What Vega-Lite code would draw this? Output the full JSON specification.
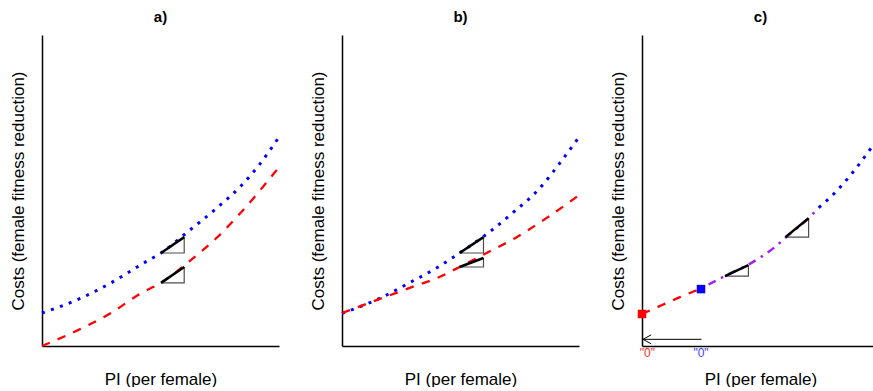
{
  "$schema": "https://vega.github.io/schema/vega-lite/v6.json",
  "padding": {"left": 9, "top": 10, "right": 0, "bottom": 0},
  "background": "white",
  "spacing": 24,
  "datasets": {
    "curves": [
      {"p": "a", "s": "blue", "x": 0, "y": 1.06},
      {"p": "a", "s": "blue", "x": 1.65, "y": 1.54},
      {"p": "a", "s": "blue", "x": 2.91, "y": 2.03},
      {"p": "a", "s": "blue", "x": 4.30, "y": 2.67},
      {"p": "a", "s": "blue", "x": 5.02, "y": 2.99},
      {"p": "a", "s": "blue", "x": 6.16, "y": 3.68},
      {"p": "a", "s": "blue", "x": 7.43, "y": 4.47},
      {"p": "a", "s": "blue", "x": 8.40, "y": 5.15},
      {"p": "a", "s": "blue", "x": 9.16, "y": 5.82},
      {"p": "a", "s": "blue", "x": 10, "y": 6.72},
      {"p": "a", "s": "red", "x": 0, "y": 0},
      {"p": "a", "s": "red", "x": 1.52, "y": 0.51},
      {"p": "a", "s": "red", "x": 2.91, "y": 1.06},
      {"p": "a", "s": "red", "x": 4.18, "y": 1.70},
      {"p": "a", "s": "red", "x": 5.02, "y": 2.03},
      {"p": "a", "s": "red", "x": 6.16, "y": 2.69},
      {"p": "a", "s": "red", "x": 7.43, "y": 3.52},
      {"p": "a", "s": "red", "x": 8.52, "y": 4.40},
      {"p": "a", "s": "red", "x": 10, "y": 5.75},
      {"p": "b", "s": "blue", "x": 0, "y": 1.05},
      {"p": "b", "s": "blue", "x": 1.64, "y": 1.55},
      {"p": "b", "s": "blue", "x": 2.84, "y": 2.03},
      {"p": "b", "s": "blue", "x": 3.97, "y": 2.50},
      {"p": "b", "s": "blue", "x": 4.96, "y": 2.99},
      {"p": "b", "s": "blue", "x": 6.23, "y": 3.67},
      {"p": "b", "s": "blue", "x": 7.20, "y": 4.28},
      {"p": "b", "s": "blue", "x": 8.35, "y": 5.08},
      {"p": "b", "s": "blue", "x": 9.19, "y": 5.88},
      {"p": "b", "s": "blue", "x": 10, "y": 6.72},
      {"p": "b", "s": "red", "x": 0, "y": 1.06},
      {"p": "b", "s": "red", "x": 1.69, "y": 1.54},
      {"p": "b", "s": "red", "x": 2.97, "y": 1.90},
      {"p": "b", "s": "red", "x": 4.11, "y": 2.22},
      {"p": "b", "s": "red", "x": 4.96, "y": 2.54},
      {"p": "b", "s": "red", "x": 6.10, "y": 2.99},
      {"p": "b", "s": "red", "x": 7.37, "y": 3.50},
      {"p": "b", "s": "red", "x": 8.64, "y": 4.12},
      {"p": "b", "s": "red", "x": 10, "y": 4.85},
      {"p": "c", "s": "red", "x": 0, "y": 1.03},
      {"p": "c", "s": "red", "x": 0.8, "y": 1.30},
      {"p": "c", "s": "red", "x": 1.6, "y": 1.57},
      {"p": "c", "s": "red", "x": 2.49, "y": 1.85},
      {"p": "c", "s": "purple", "x": 2.49, "y": 1.85},
      {"p": "c", "s": "purple", "x": 3.50, "y": 2.25},
      {"p": "c", "s": "purple", "x": 4.49, "y": 2.62},
      {"p": "c", "s": "purple", "x": 5.62, "y": 3.19},
      {"p": "c", "s": "purple", "x": 6.10, "y": 3.51},
      {"p": "c", "s": "purple", "x": 7.03, "y": 4.11},
      {"p": "c", "s": "purple", "x": 7.46, "y": 4.45},
      {"p": "c", "s": "blue", "x": 7.46, "y": 4.45},
      {"p": "c", "s": "blue", "x": 8.17, "y": 4.95},
      {"p": "c", "s": "blue", "x": 8.86, "y": 5.55},
      {"p": "c", "s": "blue", "x": 9.70, "y": 6.40},
      {"p": "c", "s": "blue", "x": 10, "y": 6.72}
    ],
    "tris": [
      {"p": "a", "t": "a1", "o": 0, "x": 5.02, "y": 2.99},
      {"p": "a", "t": "a1", "o": 1, "x": 6.0, "y": 2.99},
      {"p": "a", "t": "a1", "o": 2, "x": 6.0, "y": 3.50},
      {"p": "a", "t": "a2", "o": 0, "x": 5.02, "y": 2.03},
      {"p": "a", "t": "a2", "o": 1, "x": 6.0, "y": 2.03},
      {"p": "a", "t": "a2", "o": 2, "x": 6.0, "y": 2.54},
      {"p": "b", "t": "b1", "o": 0, "x": 4.96, "y": 2.99},
      {"p": "b", "t": "b1", "o": 1, "x": 5.97, "y": 2.99},
      {"p": "b", "t": "b1", "o": 2, "x": 5.97, "y": 3.50},
      {"p": "b", "t": "b2", "o": 0, "x": 4.96, "y": 2.54},
      {"p": "b", "t": "b2", "o": 1, "x": 5.97, "y": 2.54},
      {"p": "b", "t": "b2", "o": 2, "x": 5.97, "y": 2.83},
      {"p": "c", "t": "c1", "o": 0, "x": 3.50, "y": 2.25},
      {"p": "c", "t": "c1", "o": 1, "x": 4.49, "y": 2.25},
      {"p": "c", "t": "c1", "o": 2, "x": 4.49, "y": 2.60},
      {"p": "c", "t": "c2", "o": 0, "x": 6.05, "y": 3.50},
      {"p": "c", "t": "c2", "o": 1, "x": 7.03, "y": 3.50},
      {"p": "c", "t": "c2", "o": 2, "x": 7.03, "y": 4.11}
    ],
    "arrow": [
      {"t": "shaft", "o": 0, "x": 2.51, "y": 0.215},
      {"t": "shaft", "o": 1, "x": 0.04, "y": 0.215},
      {"t": "head", "o": 0, "x": 0.39, "y": 0.36},
      {"t": "head", "o": 1, "x": 0.04, "y": 0.215},
      {"t": "head", "o": 2, "x": 0.39, "y": 0.07}
    ],
    "squares": [
      {"s": "red", "x": 0, "y": 1.03, "lab": "\"0\"", "lx": 0.23, "ly": -0.23},
      {"s": "blue", "x": 2.49, "y": 1.83, "lab": "\"0\"", "lx": 2.49, "ly": -0.23}
    ]
  },
  "config": {
    "view": {"stroke": null},
    "font": "Liberation Sans",
    "axis": {
      "ticks": false,
      "labels": false,
      "grid": false,
      "domainColor": "black",
      "domainWidth": 1.5,
      "titleFont": "Liberation Sans",
      "titleFontSize": 17,
      "titleFontWeight": "normal",
      "titleColor": "black"
    },
    "axisX": {"titlePadding": 25},
    "axisY": {"titlePadding": 15},
    "title": {"font": "Liberation Sans", "fontSize": 15, "fontWeight": "bold", "offset": 10, "anchor": "middle", "color": "black"}
  },
  "hconcat": [
    {
      "width": 237,
      "height": 311,
      "title": "a)",
      "encoding": {
        "x": {"field": "x", "type": "quantitative", "scale": {"domain": [0, 10], "nice": false, "zero": false}, "axis": {"title": "PI (per female)"}},
        "y": {"field": "y", "type": "quantitative", "scale": {"domain": [0, 10], "nice": false, "zero": false}, "axis": {"title": "Costs (female fitness reduction)"}}
      },
      "layer": [
        {"data": {"name": "curves"}, "transform": [{"filter": "datum.p == 'a' && datum.s == 'blue'"}], "mark": {"type": "line", "interpolate": "monotone", "color": "#0000ff", "strokeWidth": 3, "strokeDash": [3, 6.5]}, "encoding": {}},
        {"data": {"name": "curves"}, "transform": [{"filter": "datum.p == 'a' && datum.s == 'red'"}], "mark": {"type": "line", "interpolate": "monotone", "color": "#ff0000", "strokeWidth": 2.3, "strokeDash": [8.5, 8.5]}, "encoding": {}},
        {"data": {"name": "tris"}, "transform": [{"filter": "datum.p == 'a'"}], "mark": {"type": "line", "color": "#4d4d4d", "strokeWidth": 1.2}, "encoding": {"detail": {"field": "t"}, "order": {"field": "o", "type": "quantitative"}}},
        {"data": {"name": "tris"}, "transform": [{"filter": "datum.p == 'a' && datum.o != 1"}], "mark": {"type": "line", "color": "black", "strokeWidth": 2.5}, "encoding": {"detail": {"field": "t"}, "order": {"field": "o", "type": "quantitative"}}}
      ]
    },
    {
      "width": 237,
      "height": 311,
      "title": "b)",
      "encoding": {
        "x": {"field": "x", "type": "quantitative", "scale": {"domain": [0, 10], "nice": false, "zero": false}, "axis": {"title": "PI (per female)"}},
        "y": {"field": "y", "type": "quantitative", "scale": {"domain": [0, 10], "nice": false, "zero": false}, "axis": {"title": "Costs (female fitness reduction)"}}
      },
      "layer": [
        {"data": {"name": "curves"}, "transform": [{"filter": "datum.p == 'b' && datum.s == 'blue'"}], "mark": {"type": "line", "interpolate": "monotone", "color": "#0000ff", "strokeWidth": 3, "strokeDash": [3, 6.5]}, "encoding": {}},
        {"data": {"name": "curves"}, "transform": [{"filter": "datum.p == 'b' && datum.s == 'red'"}], "mark": {"type": "line", "interpolate": "monotone", "color": "#ff0000", "strokeWidth": 2.3, "strokeDash": [8.5, 8.5]}, "encoding": {}},
        {"data": {"name": "tris"}, "transform": [{"filter": "datum.p == 'b'"}], "mark": {"type": "line", "color": "#4d4d4d", "strokeWidth": 1.2}, "encoding": {"detail": {"field": "t"}, "order": {"field": "o", "type": "quantitative"}}},
        {"data": {"name": "tris"}, "transform": [{"filter": "datum.p == 'b' && datum.o != 1"}], "mark": {"type": "line", "color": "black", "strokeWidth": 2.5}, "encoding": {"detail": {"field": "t"}, "order": {"field": "o", "type": "quantitative"}}}
      ]
    },
    {
      "width": 237,
      "height": 311,
      "title": "c)",
      "encoding": {
        "x": {"field": "x", "type": "quantitative", "scale": {"domain": [0, 10], "nice": false, "zero": false}, "axis": {"title": "PI (per female)"}},
        "y": {"field": "y", "type": "quantitative", "scale": {"domain": [0, 10], "nice": false, "zero": false}, "axis": {"title": "Costs (female fitness reduction)"}}
      },
      "layer": [
        {"data": {"name": "curves"}, "transform": [{"filter": "datum.p == 'c' && datum.s == 'red'"}], "mark": {"type": "line", "interpolate": "monotone", "color": "#ff0000", "strokeWidth": 2.3, "strokeDash": [8.5, 8.5]}, "encoding": {}},
        {"data": {"name": "curves"}, "transform": [{"filter": "datum.p == 'c' && datum.s == 'purple'"}], "mark": {"type": "line", "interpolate": "monotone", "color": "#a020f0", "strokeWidth": 2.5, "strokeDash": [2.5, 6, 8, 6]}, "encoding": {}},
        {"data": {"name": "curves"}, "transform": [{"filter": "datum.p == 'c' && datum.s == 'blue'"}], "mark": {"type": "line", "interpolate": "monotone", "color": "#0000ff", "strokeWidth": 3, "strokeDash": [3, 6.5]}, "encoding": {}},
        {"data": {"name": "tris"}, "transform": [{"filter": "datum.p == 'c'"}], "mark": {"type": "line", "color": "#4d4d4d", "strokeWidth": 1.2}, "encoding": {"detail": {"field": "t"}, "order": {"field": "o", "type": "quantitative"}}},
        {"data": {"name": "tris"}, "transform": [{"filter": "datum.p == 'c' && datum.o != 1"}], "mark": {"type": "line", "color": "black", "strokeWidth": 2.5}, "encoding": {"detail": {"field": "t"}, "order": {"field": "o", "type": "quantitative"}}},
        {"data": {"name": "arrow"}, "mark": {"type": "line", "color": "black", "strokeWidth": 1}, "encoding": {"detail": {"field": "t"}, "order": {"field": "o", "type": "quantitative"}}},
        {"data": {"name": "squares"}, "mark": {"type": "point", "shape": "square", "filled": true, "size": 72, "opacity": 1}, "encoding": {"color": {"field": "s", "type": "nominal", "scale": {"domain": ["red", "blue"], "range": ["#ff0000", "#0000ff"]}, "legend": null}}},
        {"data": {"name": "squares"}, "mark": {"type": "text", "fontSize": 12, "baseline": "middle", "align": "center", "font": "Liberation Sans"}, "encoding": {"x": {"field": "lx", "type": "quantitative"}, "y": {"field": "ly", "type": "quantitative"}, "text": {"field": "lab"}, "color": {"condition": {"test": "datum.s == 'red'", "value": "#ff2a2a"}, "value": "#3a3aff"}}}
      ]
    }
  ]
}
